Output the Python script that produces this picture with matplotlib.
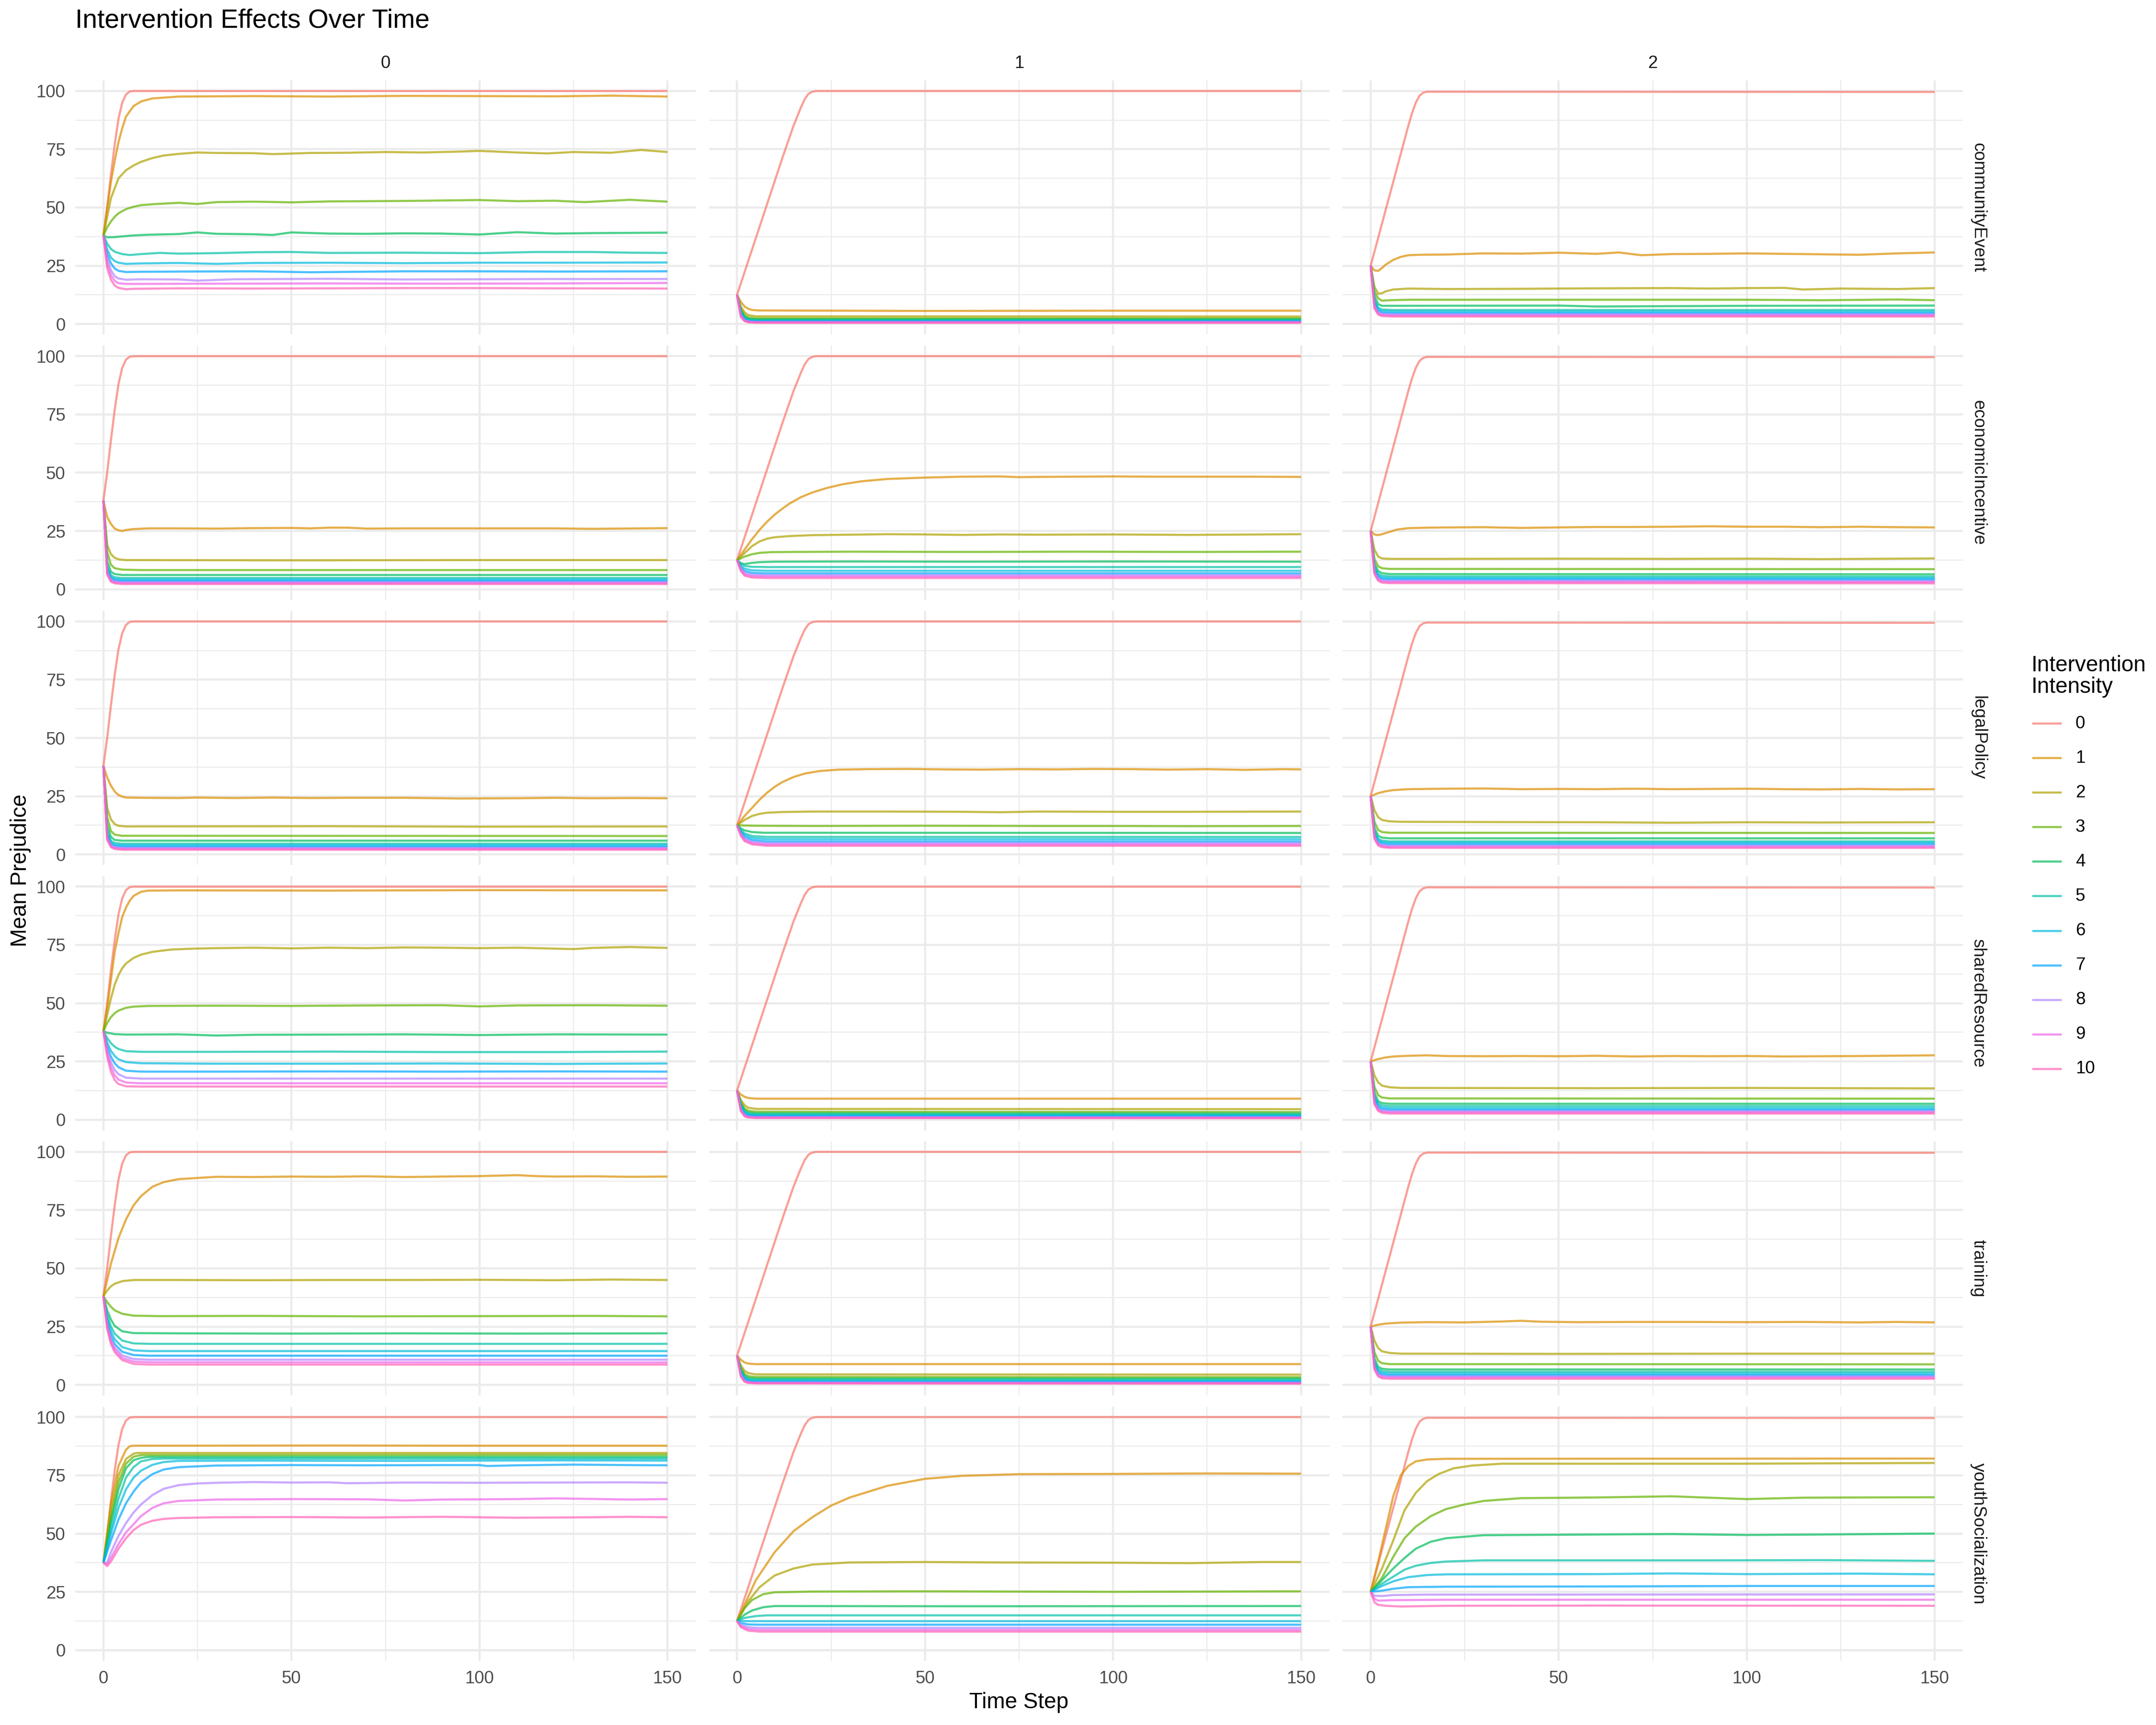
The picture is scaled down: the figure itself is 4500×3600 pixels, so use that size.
import matplotlib
matplotlib.use("Agg")
import matplotlib.pyplot as plt
from matplotlib.lines import Line2D

plt.rcParams['font.family'] = ['Liberation Sans', 'DejaVu Sans']

# facet layout: rows = intervention type, columns = group
conditions = ['communityEvent', 'economicIncentive', 'legalPolicy',
              'sharedResource', 'training', 'youthSocialization']
groups = ['0', '1', '2']
intensities = [str(i) for i in range(11)]
colors = ['#F8766D', '#DB8E00', '#AEA200', '#64B200', '#00BD5C', '#00C1A7',
          '#00BADE', '#00A6FF', '#B385FF', '#EF67EB', '#FF63B6']

# each panel: 11 lines (intensity 0..10), each a list of (time step, mean prejudice)
community_event_0 = [
    [(0, 38), (1, 50), (2, 64), (3, 77), (4, 88), (5, 95), (6, 98.5), (7, 99.8), (8, 100), (150, 100)],
    [(0, 38), (1, 50), (2, 61), (3, 70), (4, 78), (5, 84), (6, 89), (8, 93.5), (10, 95.5), (13, 96.8), (20, 97.6), (40, 97.8), (60, 97.6), (80, 97.9), (100, 97.8), (120, 97.7), (135, 98), (150, 97.6)],
    [(0, 38), (2, 54), (4, 62.5), (6, 66), (8, 68), (10, 69.6), (13, 71.2), (16, 72.3), (20, 73), (25, 73.6), (30, 73.4), (40, 73.3), (45, 72.9), (55, 73.4), (65, 73.5), (75, 73.8), (85, 73.6), (95, 74), (100, 74.3), (110, 73.6), (118, 73.2), (125, 73.8), (135, 73.5), (143, 74.7), (150, 73.8)],
    [(0, 38), (1, 41.5), (2, 44), (3, 46), (4, 47.5), (6, 49.3), (8, 50.3), (10, 51), (14, 51.5), (20, 52), (25, 51.5), (30, 52.3), (40, 52.5), (50, 52.2), (60, 52.6), (80, 52.8), (100, 53.2), (110, 52.7), (120, 52.9), (128, 52.3), (140, 53.3), (150, 52.5)],
    [(0, 38), (1, 37.2), (3, 37.3), (5, 37.6), (8, 38), (12, 38.3), (20, 38.6), (25, 39.3), (30, 38.7), (40, 38.5), (45, 38.2), (50, 39.3), (60, 38.8), (70, 38.7), (80, 38.9), (90, 38.8), (100, 38.4), (110, 39.4), (120, 38.8), (130, 39), (150, 39.2)],
    [(0, 38), (1, 34.5), (2, 32.2), (3, 31), (5, 30), (7, 29.6), (10, 30), (15, 30.5), (20, 30.2), (30, 30.4), (40, 30.8), (50, 30.9), (60, 30.5), (80, 30.6), (100, 30.4), (115, 30.9), (130, 30.9), (140, 30.6), (150, 30.5)],
    [(0, 38), (1, 32), (2, 28.5), (3, 27), (4, 26.3), (6, 25.8), (10, 26), (20, 26.2), (30, 25.8), (40, 26.2), (60, 26.3), (80, 26.1), (100, 26.3), (120, 26.3), (150, 26.4)],
    [(0, 38), (1, 30), (2, 26), (3, 23.8), (4, 22.8), (6, 22.3), (10, 22.4), (20, 22.5), (40, 22.6), (55, 22.2), (80, 22.6), (100, 22.6), (120, 22.5), (150, 22.6)],
    [(0, 38), (1, 28), (2, 23), (3, 20.5), (4, 19.5), (6, 19), (10, 19.2), (20, 19.1), (25, 18.6), (35, 19.2), (60, 19.4), (80, 19.1), (100, 19.2), (120, 19.3), (150, 19.3)],
    [(0, 38), (1, 26), (2, 21), (3, 18.5), (4, 17.5), (6, 17.2), (10, 17.2), (30, 17.3), (60, 17.4), (90, 17.3), (120, 17.4), (150, 17.6)],
    [(0, 38), (1, 24), (2, 19), (3, 16.5), (4, 15.5), (6, 14.9), (8, 15.1), (20, 15.3), (40, 15.2), (60, 15.3), (80, 15.4), (100, 15.4), (120, 15.3), (150, 15.2)],
]
community_event_1 = [
    [(0, 12.5), (4, 32), (8, 51.5), (12, 71), (15, 85), (17, 93), (18, 96.5), (19, 98.8), (20, 99.7), (21, 100), (150, 100)],
    [(0, 12.5), (1, 9.5), (2, 7.5), (3, 6.5), (4, 6), (6, 5.8), (50, 5.6), (100, 5.7), (150, 5.7)],
    [(0, 12.5), (1, 7.5), (2, 5), (3, 3.8), (5, 3.3), (150, 3.2)],
    [(0, 12.5), (1, 6.5), (2, 3.8), (3, 2.8), (5, 2.4), (150, 2.4)],
    [(0, 12.5), (1, 5.8), (2, 3.2), (3, 2.3), (5, 2), (150, 2)],
    [(0, 12.5), (1, 5.2), (2, 2.7), (3, 1.9), (5, 1.6), (150, 1.6)],
    [(0, 12.5), (1, 4.7), (2, 2.3), (3, 1.6), (5, 1.3), (150, 1.3)],
    [(0, 12.5), (1, 4.2), (2, 2), (3, 1.3), (5, 1.1), (150, 1.1)],
    [(0, 12.5), (1, 3.8), (2, 1.7), (3, 1.1), (5, 0.9), (150, 0.9)],
    [(0, 12.5), (1, 3.4), (2, 1.4), (3, 0.9), (5, 0.7), (150, 0.7)],
    [(0, 12.5), (1, 3), (2, 1.2), (3, 0.7), (5, 0.5), (150, 0.5)],
]
community_event_2 = [
    [(0, 25), (2, 37), (4, 49), (6, 61), (8, 73), (10, 85), (11, 90.5), (12, 95), (13, 98), (14, 99.3), (15, 99.7), (150, 99.6)],
    [(0, 25), (1, 23), (2, 22.8), (3, 24), (4, 25.5), (6, 27.5), (8, 28.8), (10, 29.5), (13, 29.7), (20, 29.8), (30, 30.3), (40, 30.2), (50, 30.6), (60, 30.1), (66, 30.7), (72, 29.5), (80, 30), (90, 30.1), (100, 30.3), (110, 30.1), (120, 29.9), (130, 29.7), (140, 30.3), (150, 30.7)],
    [(0, 25), (1, 16), (2, 13), (3, 13.2), (4, 14), (6, 14.8), (10, 15.2), (20, 15), (40, 15.1), (60, 15.3), (80, 15.4), (90, 15.2), (100, 15.4), (110, 15.5), (115, 14.8), (125, 15.2), (140, 15), (150, 15.4)],
    [(0, 25), (1, 14), (2, 11), (3, 10), (5, 10.2), (10, 10.4), (50, 10.4), (100, 10.4), (120, 10.2), (140, 10.5), (150, 10.2)],
    [(0, 25), (1, 12), (2, 8.5), (3, 7.8), (6, 7.8), (50, 7.9), (60, 7.5), (100, 7.8), (150, 7.9)],
    [(0, 25), (1, 10.5), (2, 7), (3, 6.2), (6, 6), (150, 6)],
    [(0, 25), (1, 9.5), (2, 6.3), (3, 5.5), (6, 5.3), (150, 5.3)],
    [(0, 25), (1, 8.7), (2, 5.6), (3, 4.8), (6, 4.6), (150, 4.6)],
    [(0, 25), (1, 8), (2, 5), (3, 4.3), (6, 4.1), (150, 4.1)],
    [(0, 25), (1, 7.3), (2, 4.5), (3, 3.8), (6, 3.6), (150, 3.6)],
    [(0, 25), (1, 6.6), (2, 4), (3, 3.4), (6, 3.2), (150, 3.2)],
]

economic_incentive_0 = [
    [(0, 38), (1, 50), (2, 64), (3, 77), (4, 88), (5, 95), (6, 98.5), (7, 99.8), (8, 100), (150, 100)],
    [(0, 38), (1, 31), (2, 28), (3, 26), (4, 25.3), (5, 25), (6, 25.4), (8, 25.8), (12, 26.1), (20, 26.1), (30, 26), (40, 26.2), (50, 26.3), (55, 26.1), (60, 26.4), (65, 26.4), (70, 26), (80, 26.1), (100, 26.1), (120, 26.1), (130, 25.9), (150, 26.2)],
    [(0, 38), (1, 19), (2, 15), (3, 13.5), (4, 12.8), (6, 12.5), (50, 12.4), (100, 12.5), (150, 12.5)],
    [(0, 38), (1, 16), (2, 10.5), (3, 9), (5, 8.4), (10, 8.2), (150, 8.2)],
    [(0, 38), (1, 12), (2, 7.5), (3, 6.5), (5, 6.1), (150, 6.1)],
    [(0, 38), (1, 10), (2, 6), (3, 5.1), (5, 4.8), (150, 4.8)],
    [(0, 38), (1, 9), (2, 5.2), (3, 4.4), (5, 4.1), (150, 4.1)],
    [(0, 38), (1, 8.2), (2, 4.6), (3, 3.8), (5, 3.5), (150, 3.5)],
    [(0, 38), (1, 7.5), (2, 4), (3, 3.3), (5, 3), (150, 3)],
    [(0, 38), (1, 6.8), (2, 3.6), (3, 2.9), (5, 2.6), (150, 2.6)],
    [(0, 38), (1, 6.2), (2, 3.2), (3, 2.5), (5, 2.2), (150, 2.2)],
]
economic_incentive_1 = [
    [(0, 12.5), (4, 32), (8, 51.5), (12, 71), (15, 85), (17, 93), (18, 96.5), (19, 98.8), (20, 99.7), (21, 100), (150, 100)],
    [(0, 12.5), (2, 17), (4, 21.5), (6, 25.5), (8, 29), (10, 32), (12, 34.5), (14, 36.8), (17, 39.5), (20, 41.5), (24, 43.5), (28, 45), (33, 46.3), (40, 47.3), (50, 47.9), (60, 48.3), (70, 48.4), (75, 48.1), (80, 48.2), (90, 48.3), (100, 48.4), (110, 48.3), (120, 48.3), (135, 48.3), (150, 48.2)],
    [(0, 12.5), (2, 15.5), (4, 18.5), (6, 20.5), (8, 21.7), (10, 22.3), (14, 22.8), (20, 23.2), (30, 23.4), (40, 23.6), (50, 23.5), (60, 23.3), (70, 23.5), (80, 23.4), (100, 23.5), (120, 23.3), (150, 23.6)],
    [(0, 12.5), (2, 14), (4, 15), (6, 15.6), (9, 15.9), (15, 16), (30, 16.1), (60, 16), (90, 16.1), (120, 16), (150, 16.1)],
    [(0, 12.5), (1, 11.2), (2, 10.8), (4, 11.3), (6, 11.6), (10, 11.8), (30, 11.9), (60, 11.8), (100, 11.9), (150, 11.8)],
    [(0, 12.5), (1, 10.8), (2, 10), (4, 9.6), (8, 9.5), (150, 9.5)],
    [(0, 12.5), (1, 10), (2, 8.8), (4, 8.1), (8, 7.9), (150, 7.9)],
    [(0, 12.5), (1, 9.3), (2, 7.8), (4, 7), (8, 6.8), (150, 6.8)],
    [(0, 12.5), (1, 8.8), (2, 7), (4, 6.2), (8, 6), (150, 6)],
    [(0, 12.5), (1, 8.3), (2, 6.3), (4, 5.6), (8, 5.4), (150, 5.4)],
    [(0, 12.5), (1, 7.8), (2, 5.8), (4, 5), (8, 4.8), (150, 4.8)],
]
economic_incentive_2 = [
    [(0, 25), (2, 37), (4, 49), (6, 61), (8, 73), (10, 85), (11, 90.5), (12, 95), (13, 98), (14, 99.3), (15, 99.7), (150, 99.6)],
    [(0, 25), (1, 23.5), (2, 23.2), (3, 23.6), (5, 24.6), (7, 25.6), (10, 26.2), (15, 26.4), (20, 26.5), (30, 26.6), (40, 26.3), (50, 26.5), (60, 26.7), (70, 26.7), (80, 26.8), (90, 27), (100, 26.8), (110, 26.8), (120, 26.6), (130, 26.8), (140, 26.6), (150, 26.5)],
    [(0, 25), (1, 17), (2, 14), (3, 13.2), (5, 13), (20, 13), (50, 13.1), (80, 13), (100, 13.1), (120, 12.9), (150, 13.2)],
    [(0, 25), (1, 13), (2, 9.8), (3, 9), (5, 8.7), (150, 8.6)],
    [(0, 25), (1, 11), (2, 7.8), (3, 6.9), (5, 6.5), (150, 6.4)],
    [(0, 25), (1, 9.8), (2, 6.6), (3, 5.8), (5, 5.5), (150, 5.4)],
    [(0, 25), (1, 9), (2, 5.8), (3, 5), (5, 4.8), (150, 4.7)],
    [(0, 25), (1, 8.3), (2, 5.2), (3, 4.4), (5, 4.2), (150, 4.1)],
    [(0, 25), (1, 7.6), (2, 4.6), (3, 3.8), (5, 3.6), (150, 3.5)],
    [(0, 25), (1, 7), (2, 4.1), (3, 3.3), (5, 3.1), (150, 3)],
    [(0, 25), (1, 6.4), (2, 3.6), (3, 2.8), (5, 2.6), (150, 2.5)],
]

legal_policy_0 = [
    [(0, 38), (1, 50), (2, 64), (3, 77), (4, 88), (5, 95), (6, 98.5), (7, 99.8), (8, 100), (150, 100)],
    [(0, 38), (1, 33), (2, 29.5), (3, 27), (4, 25.5), (5, 24.8), (6, 24.4), (10, 24.3), (20, 24.2), (25, 24.4), (35, 24.2), (45, 24.4), (55, 24.2), (65, 24.3), (80, 24.3), (95, 24), (110, 24.1), (120, 24.3), (130, 24.1), (140, 24.2), (150, 24.1)],
    [(0, 38), (1, 20), (2, 15), (3, 13), (4, 12.3), (6, 12), (60, 12.1), (100, 11.9), (150, 12)],
    [(0, 38), (1, 16), (2, 10), (3, 8.5), (5, 8), (150, 7.9)],
    [(0, 38), (1, 12.5), (2, 7.5), (3, 6.2), (5, 5.9), (150, 5.9)],
    [(0, 38), (1, 10), (2, 5.8), (3, 4.9), (5, 4.6), (150, 4.6)],
    [(0, 38), (1, 9), (2, 5), (3, 4.2), (5, 3.9), (150, 3.9)],
    [(0, 38), (1, 8.2), (2, 4.4), (3, 3.6), (5, 3.3), (150, 3.3)],
    [(0, 38), (1, 7.5), (2, 3.9), (3, 3.1), (5, 2.8), (150, 2.8)],
    [(0, 38), (1, 6.8), (2, 3.5), (3, 2.7), (5, 2.4), (150, 2.4)],
    [(0, 38), (1, 6.2), (2, 3.1), (3, 2.3), (5, 2), (150, 2)],
]
legal_policy_1 = [
    [(0, 12.5), (4, 32), (8, 51.5), (12, 71), (15, 85), (17, 93), (18, 96.5), (19, 98.8), (20, 99.7), (21, 100), (150, 100)],
    [(0, 12.5), (2, 16.5), (4, 20), (6, 23.5), (8, 26.5), (10, 29), (12, 31), (15, 33.2), (18, 34.7), (22, 35.8), (27, 36.4), (35, 36.6), (45, 36.7), (55, 36.5), (65, 36.4), (75, 36.6), (85, 36.5), (95, 36.7), (105, 36.6), (115, 36.4), (125, 36.6), (135, 36.3), (145, 36.6), (150, 36.5)],
    [(0, 12.5), (2, 14.8), (4, 16.5), (6, 17.4), (8, 17.9), (12, 18.2), (20, 18.4), (40, 18.4), (60, 18.3), (70, 18.1), (80, 18.4), (100, 18.3), (120, 18.3), (150, 18.4)],
    [(0, 12.5), (5, 12.3), (20, 12.2), (50, 12.3), (80, 12.2), (100, 12.2), (120, 12.1), (150, 12.2)],
    [(0, 12.5), (1, 11.2), (2, 10.3), (4, 9.6), (7, 9.3), (150, 9.2)],
    [(0, 12.5), (1, 10.5), (2, 9), (4, 7.9), (8, 7.5), (150, 7.5)],
    [(0, 12.5), (1, 10), (2, 8.3), (4, 7), (8, 6.5), (150, 6.5)],
    [(0, 12.5), (1, 9.4), (2, 7.5), (4, 6.1), (8, 5.5), (150, 5.5)],
    [(0, 12.5), (1, 8.9), (2, 6.8), (4, 5.4), (8, 4.8), (150, 4.8)],
    [(0, 12.5), (1, 8.4), (2, 6.2), (4, 4.8), (8, 4.2), (150, 4.2)],
    [(0, 12.5), (1, 8), (2, 5.7), (4, 4.3), (8, 3.7), (150, 3.7)],
]
legal_policy_2 = [
    [(0, 25), (2, 37), (4, 49), (6, 61), (8, 73), (10, 85), (11, 90.5), (12, 95), (13, 98), (14, 99.2), (15, 99.5), (150, 99.4)],
    [(0, 25), (2, 26.3), (4, 27.1), (6, 27.6), (10, 28), (20, 28.2), (30, 28.3), (40, 28), (50, 28.1), (60, 28), (70, 28.2), (80, 28), (90, 28.1), (100, 28.2), (110, 28), (120, 27.9), (130, 28.1), (140, 27.9), (150, 28)],
    [(0, 25), (1, 19), (2, 16), (3, 14.8), (5, 14.2), (8, 14), (30, 13.9), (60, 13.8), (80, 13.6), (100, 13.8), (120, 13.7), (150, 13.8)],
    [(0, 25), (1, 14), (2, 10.5), (3, 9.6), (5, 9.3), (150, 9.2)],
    [(0, 25), (1, 11.5), (2, 8), (3, 7.2), (5, 6.9), (150, 6.9)],
    [(0, 25), (1, 10), (2, 6.7), (3, 5.9), (5, 5.6), (150, 5.6)],
    [(0, 25), (1, 9.2), (2, 6), (3, 5.3), (5, 5), (150, 5)],
    [(0, 25), (1, 8.5), (2, 5.4), (3, 4.6), (5, 4.3), (150, 4.3)],
    [(0, 25), (1, 7.8), (2, 4.8), (3, 4), (5, 3.7), (150, 3.7)],
    [(0, 25), (1, 7.2), (2, 4.3), (3, 3.5), (5, 3.2), (150, 3.2)],
    [(0, 25), (1, 6.6), (2, 3.8), (3, 3.1), (5, 2.8), (150, 2.8)],
]

shared_resource_0 = [
    [(0, 38), (1, 50), (2, 64), (3, 77), (4, 88), (5, 95), (6, 98.5), (7, 99.8), (8, 100), (150, 100)],
    [(0, 38), (1, 48), (2, 60), (3, 72), (4, 80), (5, 87), (6, 91), (7, 94), (8, 96), (10, 97.8), (12, 98.3), (20, 98.4), (60, 98.3), (100, 98.5), (150, 98.4)],
    [(0, 38), (1, 45), (2, 52), (3, 58), (4, 62), (5, 65), (6, 67), (8, 69.4), (10, 70.8), (13, 72), (18, 73), (24, 73.4), (30, 73.6), (40, 73.8), (50, 73.5), (60, 73.8), (70, 73.6), (80, 73.9), (90, 73.8), (100, 73.6), (110, 73.8), (120, 73.4), (125, 73.2), (130, 73.7), (140, 74.1), (150, 73.7)],
    [(0, 38), (1, 41.5), (2, 44), (3, 45.7), (4, 46.8), (6, 48), (8, 48.5), (12, 48.8), (30, 48.9), (50, 48.8), (70, 49), (90, 49.1), (100, 48.6), (110, 49), (130, 49.1), (150, 48.9)],
    [(0, 38), (1, 37.3), (3, 36.7), (6, 36.5), (20, 36.6), (30, 36.1), (40, 36.4), (60, 36.5), (80, 36.6), (100, 36.3), (120, 36.6), (150, 36.5)],
    [(0, 38), (1, 35), (2, 32.8), (3, 31.3), (4, 30.3), (6, 29.4), (10, 29.1), (30, 29.1), (60, 29.2), (90, 29), (120, 29), (150, 29.2)],
    [(0, 38), (1, 33), (2, 29.5), (3, 27.3), (4, 25.9), (6, 24.7), (10, 24.2), (30, 24), (60, 24), (90, 24.1), (120, 23.9), (150, 24.1)],
    [(0, 38), (1, 31.5), (2, 27), (3, 24.2), (4, 22.5), (6, 21), (10, 20.6), (30, 20.6), (60, 20.7), (90, 20.6), (120, 20.7), (150, 20.6)],
    [(0, 38), (1, 30), (2, 24.5), (3, 21.3), (4, 19.5), (6, 18), (10, 17.6), (150, 17.6)],
    [(0, 38), (1, 28.5), (2, 22.5), (3, 19), (4, 17.2), (6, 15.9), (10, 15.6), (150, 15.6)],
    [(0, 38), (1, 27), (2, 20.5), (3, 17), (4, 15.3), (6, 14.3), (10, 14.2), (150, 14.2)],
]
shared_resource_1 = [
    [(0, 12.5), (4, 32), (8, 51.5), (12, 71), (15, 85), (17, 93), (18, 96.5), (19, 98.8), (20, 99.7), (21, 100), (150, 100)],
    [(0, 12.5), (1, 10.8), (2, 9.8), (3, 9.3), (5, 9), (150, 9)],
    [(0, 12.5), (1, 8.5), (2, 6.2), (3, 5.1), (5, 4.6), (150, 4.5)],
    [(0, 12.5), (1, 7.5), (2, 4.8), (3, 3.8), (5, 3.4), (150, 3.3)],
    [(0, 12.5), (1, 6.8), (2, 4), (3, 3.1), (5, 2.7), (150, 2.6)],
    [(0, 12.5), (1, 6.2), (2, 3.4), (3, 2.5), (5, 2.2), (150, 2.1)],
    [(0, 12.5), (1, 5.6), (2, 2.9), (3, 2.1), (5, 1.8), (150, 1.7)],
    [(0, 12.5), (1, 5), (2, 2.4), (3, 1.7), (5, 1.4), (150, 1.3)],
    [(0, 12.5), (1, 4.5), (2, 2), (3, 1.3), (5, 1.1), (150, 1)],
    [(0, 12.5), (1, 4), (2, 1.7), (3, 1.1), (5, 0.9), (150, 0.8)],
    [(0, 12.5), (1, 3.6), (2, 1.4), (3, 0.9), (5, 0.7), (150, 0.6)],
]
shared_resource_2 = [
    [(0, 25), (2, 37), (4, 49), (6, 61), (8, 73), (10, 85), (11, 90.5), (12, 95), (13, 98), (14, 99.3), (15, 99.7), (150, 99.6)],
    [(0, 25), (2, 26), (4, 26.7), (6, 27.1), (10, 27.4), (15, 27.6), (20, 27.3), (30, 27.2), (40, 27.3), (50, 27.2), (60, 27.4), (70, 27.1), (80, 27.3), (90, 27.2), (100, 27.3), (110, 27.1), (120, 27.2), (130, 27.3), (150, 27.6)],
    [(0, 25), (1, 19), (2, 16), (3, 14.6), (5, 13.9), (8, 13.6), (60, 13.5), (100, 13.6), (150, 13.4)],
    [(0, 25), (1, 14), (2, 10.5), (3, 9.5), (5, 9.1), (150, 9)],
    [(0, 25), (1, 11.5), (2, 7.9), (3, 7.1), (5, 6.8), (150, 6.8)],
    [(0, 25), (1, 10.3), (2, 6.9), (3, 6.1), (5, 5.8), (150, 5.8)],
    [(0, 25), (1, 9.3), (2, 6), (3, 5.2), (5, 4.9), (150, 4.9)],
    [(0, 25), (1, 8.5), (2, 5.3), (3, 4.5), (5, 4.2), (150, 4.2)],
    [(0, 25), (1, 7.8), (2, 4.7), (3, 3.9), (5, 3.6), (150, 3.6)],
    [(0, 25), (1, 7.2), (2, 4.2), (3, 3.4), (5, 3.1), (150, 3.1)],
    [(0, 25), (1, 6.6), (2, 3.7), (3, 2.9), (5, 2.6), (150, 2.6)],
]

training_0 = [
    [(0, 38), (1, 50), (2, 64), (3, 77), (4, 88), (5, 95), (6, 98.5), (7, 99.8), (8, 100), (150, 100)],
    [(0, 38), (2, 52), (4, 63), (6, 71), (8, 77), (10, 81), (13, 85), (16, 87), (20, 88.3), (30, 89.3), (40, 89.2), (50, 89.4), (60, 89.3), (70, 89.5), (80, 89.2), (90, 89.4), (100, 89.6), (105, 89.8), (110, 90), (115, 89.6), (120, 89.4), (130, 89.5), (140, 89.3), (150, 89.4)],
    [(0, 38), (1, 40.5), (2, 42.3), (3, 43.4), (5, 44.5), (8, 45), (20, 45), (40, 44.9), (60, 45), (80, 45), (100, 45.1), (120, 44.9), (135, 45.2), (150, 45)],
    [(0, 38), (1, 35.5), (2, 33.5), (3, 32), (5, 30.5), (8, 29.7), (15, 29.5), (40, 29.6), (70, 29.4), (100, 29.5), (130, 29.6), (150, 29.4)],
    [(0, 38), (1, 32), (2, 28), (3, 25.3), (5, 23), (8, 22.2), (20, 22.1), (50, 22), (80, 22.1), (110, 22), (150, 22.1)],
    [(0, 38), (1, 30), (2, 25), (3, 22), (5, 19), (8, 17.8), (12, 17.6), (150, 17.6)],
    [(0, 38), (1, 28.5), (2, 23), (3, 19.5), (5, 16.2), (8, 14.8), (12, 14.5), (150, 14.5)],
    [(0, 38), (1, 27), (2, 21), (3, 17.5), (5, 14.2), (8, 12.8), (12, 12.5), (150, 12.5)],
    [(0, 38), (1, 26), (2, 19.5), (3, 16), (5, 12.6), (8, 11.1), (12, 10.8), (150, 10.8)],
    [(0, 38), (1, 25), (2, 18.5), (3, 15), (5, 11.5), (8, 10), (12, 9.7), (150, 9.6)],
    [(0, 38), (1, 24), (2, 17.5), (3, 14), (5, 10.6), (8, 9), (12, 8.7), (150, 8.7)],
]
training_1 = [
    [(0, 12.5), (4, 32), (8, 51.5), (12, 71), (15, 85), (17, 93), (18, 96.5), (19, 98.8), (20, 99.7), (21, 100), (150, 100)],
    [(0, 12.5), (1, 10.8), (2, 9.6), (3, 9.1), (5, 8.9), (150, 8.9)],
    [(0, 12.5), (1, 8.4), (2, 6), (3, 5), (5, 4.5), (150, 4.4)],
    [(0, 12.5), (1, 7.4), (2, 4.7), (3, 3.7), (5, 3.4), (150, 3.3)],
    [(0, 12.5), (1, 6.7), (2, 3.9), (3, 3), (5, 2.7), (150, 2.7)],
    [(0, 12.5), (1, 6.1), (2, 3.3), (3, 2.4), (5, 2.2), (150, 2.1)],
    [(0, 12.5), (1, 5.5), (2, 2.8), (3, 2), (5, 1.7), (150, 1.6)],
    [(0, 12.5), (1, 4.9), (2, 2.3), (3, 1.6), (5, 1.3), (150, 1.2)],
    [(0, 12.5), (1, 4.4), (2, 1.9), (3, 1.2), (5, 1), (150, 0.9)],
    [(0, 12.5), (1, 3.9), (2, 1.6), (3, 1), (5, 0.8), (150, 0.7)],
    [(0, 12.5), (1, 3.5), (2, 1.3), (3, 0.8), (5, 0.6), (150, 0.5)],
]
training_2 = [
    [(0, 25), (2, 37), (4, 49), (6, 61), (8, 73), (10, 85), (11, 90.5), (12, 95), (13, 98), (14, 99.3), (15, 99.7), (150, 99.6)],
    [(0, 25), (2, 25.8), (4, 26.3), (8, 26.7), (15, 26.9), (25, 26.8), (35, 27.2), (40, 27.5), (45, 27.1), (55, 26.9), (70, 27), (85, 27), (100, 26.9), (115, 27), (130, 26.8), (140, 27), (150, 26.8)],
    [(0, 25), (1, 19), (2, 15.8), (3, 14.4), (5, 13.7), (8, 13.4), (50, 13.3), (100, 13.4), (150, 13.4)],
    [(0, 25), (1, 14), (2, 10.3), (3, 9.3), (5, 8.9), (150, 8.8)],
    [(0, 25), (1, 11.3), (2, 7.7), (3, 6.9), (5, 6.6), (150, 6.6)],
    [(0, 25), (1, 10), (2, 6.7), (3, 5.9), (5, 5.6), (150, 5.6)],
    [(0, 25), (1, 9.2), (2, 5.9), (3, 5.1), (5, 4.8), (150, 4.8)],
    [(0, 25), (1, 8.4), (2, 5.2), (3, 4.4), (5, 4.1), (150, 4.1)],
    [(0, 25), (1, 7.7), (2, 4.6), (3, 3.8), (5, 3.6), (150, 3.6)],
    [(0, 25), (1, 7.1), (2, 4.1), (3, 3.3), (5, 3.1), (150, 3.1)],
    [(0, 25), (1, 6.5), (2, 3.6), (3, 2.8), (5, 2.6), (150, 2.6)],
]

youth_socialization_0 = [
    [(0, 37.5), (1, 50), (2, 64), (3, 77), (4, 88), (5, 95), (6, 98.5), (7, 99.8), (8, 100), (150, 100)],
    [(0, 37.5), (2, 63), (4, 79), (6, 86), (7, 87.5), (8, 87.7), (60, 87.8), (100, 87.7), (150, 87.7)],
    [(0, 37.5), (2, 60), (4, 75), (6, 82), (8, 84.3), (9, 84.6), (60, 84.6), (150, 84.6)],
    [(0, 37.5), (2, 57), (4, 72), (6, 80), (8, 83), (10, 83.7), (150, 83.8)],
    [(0, 37.5), (2, 55), (4, 69), (6, 78), (8, 81.5), (10, 82.5), (12, 82.9), (150, 82.9)],
    [(0, 37.5), (2, 52), (4, 65), (6, 74), (8, 78.5), (10, 81), (13, 82), (16, 82.2), (150, 82.2)],
    [(0, 37.5), (2, 50), (4, 61), (6, 69), (8, 74), (10, 77), (13, 79.5), (16, 80.7), (20, 81.2), (40, 81.3), (80, 81.2), (120, 81.4), (150, 81.3)],
    [(0, 37.5), (2, 47), (4, 56), (6, 63), (8, 68), (10, 72), (13, 75.5), (16, 77.5), (20, 78.5), (30, 79.2), (50, 79.4), (70, 79.3), (90, 79.4), (100, 79.4), (102, 79), (110, 79.3), (125, 79.6), (140, 79.4), (150, 79.3)],
    [(0, 37.5), (1, 37.5), (2, 42), (4, 49), (6, 54.5), (8, 59), (10, 62.5), (13, 66.5), (16, 69.2), (20, 70.8), (25, 71.5), (30, 71.8), (40, 72.1), (50, 71.9), (60, 72), (65, 71.6), (80, 71.9), (100, 71.8), (120, 71.9), (140, 72), (150, 71.8)],
    [(0, 37.5), (1, 36.8), (2, 39.5), (4, 45.5), (6, 50.5), (8, 54), (10, 57.5), (13, 61), (16, 63), (20, 64), (30, 64.6), (50, 64.8), (70, 64.7), (80, 64.2), (90, 64.6), (110, 64.8), (120, 65.1), (140, 64.6), (150, 64.8)],
    [(0, 37.5), (1, 36), (2, 38), (4, 43.5), (6, 48), (8, 51.5), (10, 53.8), (13, 55.5), (16, 56.3), (20, 56.7), (30, 57), (50, 57.1), (70, 56.9), (90, 57.2), (110, 56.8), (130, 57), (140, 57.2), (150, 57)],
]
youth_socialization_1 = [
    [(0, 12.5), (4, 32), (8, 51.5), (12, 71), (15, 85), (17, 93), (18, 96.5), (19, 98.8), (20, 99.7), (21, 100), (150, 100)],
    [(0, 12.5), (5, 30), (10, 42), (15, 51), (20, 57), (25, 62), (30, 65.5), (40, 70.5), (50, 73.5), (60, 74.8), (75, 75.5), (100, 75.6), (125, 75.8), (150, 75.7)],
    [(0, 12.5), (3, 21), (6, 27), (10, 32), (15, 35), (20, 36.7), (30, 37.6), (50, 37.8), (70, 37.6), (100, 37.5), (120, 37.3), (140, 37.8), (150, 37.8)],
    [(0, 12.5), (2, 18), (4, 21.5), (7, 24), (10, 24.8), (20, 25.1), (50, 25.2), (100, 25), (150, 25.2)],
    [(0, 12.5), (2, 15.2), (4, 17), (7, 18.4), (10, 18.9), (60, 18.8), (150, 18.9)],
    [(0, 12.5), (2, 13.8), (5, 14.6), (8, 14.9), (150, 14.9)],
    [(0, 12.5), (3, 12.4), (150, 12.4)],
    [(0, 12.5), (1, 11.6), (3, 11), (6, 10.9), (150, 10.9)],
    [(0, 12.5), (1, 10.8), (3, 9.8), (6, 9.5), (150, 9.5)],
    [(0, 12.5), (1, 10.3), (3, 9), (6, 8.6), (150, 8.6)],
    [(0, 12.5), (1, 9.8), (3, 8.3), (6, 7.9), (150, 7.9)],
]
youth_socialization_2 = [
    [(0, 25), (2, 37), (4, 49), (6, 61), (8, 73), (10, 85), (11, 90.5), (12, 95), (13, 98), (14, 99.3), (15, 99.7), (150, 99.6)],
    [(0, 25), (2, 38), (4, 52), (6, 66), (8, 75), (10, 79), (12, 81), (15, 81.8), (20, 82.1), (150, 82.2)],
    [(0, 25), (3, 35), (6, 47), (9, 60), (12, 67.5), (15, 72.5), (18, 75.5), (22, 78), (27, 79.2), (35, 80), (60, 80), (100, 80), (150, 80.3)],
    [(0, 25), (3, 31), (6, 40), (9, 48), (12, 53), (16, 57.5), (20, 60.5), (25, 62.5), (30, 64), (40, 65.2), (60, 65.5), (80, 66), (100, 64.8), (115, 65.4), (130, 65.5), (150, 65.6)],
    [(0, 25), (3, 30), (6, 35), (9, 39.5), (12, 43.5), (16, 46.5), (20, 48), (30, 49.3), (60, 49.6), (80, 49.8), (100, 49.4), (120, 49.6), (150, 50)],
    [(0, 25), (3, 28.5), (6, 31.5), (9, 34.5), (12, 36.2), (16, 37.4), (20, 38), (30, 38.5), (60, 38.5), (90, 38.5), (120, 38.6), (150, 38.3)],
    [(0, 25), (3, 27.5), (6, 29.5), (10, 31.3), (15, 32.2), (20, 32.5), (60, 32.6), (80, 32.9), (100, 32.6), (130, 32.8), (150, 32.5)],
    [(0, 25), (3, 25.5), (6, 26.3), (10, 27), (20, 27.2), (60, 27.3), (100, 27.5), (150, 27.5)],
    [(0, 25), (1, 23.3), (3, 23.2), (6, 23.6), (15, 23.8), (150, 23.9)],
    [(0, 25), (1, 22), (2, 21.2), (5, 21.4), (20, 21.6), (150, 21.6)],
    [(0, 25), (1, 20.5), (2, 19.4), (4, 19), (8, 18.7), (20, 19), (60, 19.1), (150, 19)],
]

panels = [
    [community_event_0, community_event_1, community_event_2],
    [economic_incentive_0, economic_incentive_1, economic_incentive_2],
    [legal_policy_0, legal_policy_1, legal_policy_2],
    [shared_resource_0, shared_resource_1, shared_resource_2],
    [training_0, training_1, training_2],
    [youth_socialization_0, youth_socialization_1, youth_socialization_2],
]

W, H = 4500, 3600
fig = plt.figure(figsize=(15, 12), dpi=300)

# panel geometry in pixels
left0, top0 = 157, 168
pw, ph = 1295, 530
gap_x, gap_y = 27.5, 23.5
grid_col = '#EBEBEB'

for i, cond in enumerate(conditions):
    for j, grp in enumerate(groups):
        x0 = left0 + j * (pw + gap_x)
        y0 = top0 + i * (ph + gap_y)
        ax = fig.add_axes([x0 / W, 1 - (y0 + ph) / H, pw / W, ph / H])
        for k, line in enumerate(panels[i][j]):
            ts = [p[0] for p in line]
            vs = [p[1] for p in line]
            ax.plot(ts, vs, color=colors[k], lw=1.07, alpha=0.7,
                    solid_joinstyle='round', solid_capstyle='butt')
        ax.set_xlim(-7.5, 157.5)
        ax.set_ylim(-4.5, 104.5)
        ax.set_xticks([0, 50, 100, 150])
        ax.set_xticks([25, 75, 125], minor=True)
        ax.set_yticks([0, 25, 50, 75, 100])
        ax.set_yticks([12.5, 37.5, 62.5, 87.5], minor=True)
        ax.grid(which='major', color=grid_col, lw=1.07)
        ax.grid(which='minor', color=grid_col, lw=0.53)
        ax.set_axisbelow(True)
        for s in ax.spines.values():
            s.set_visible(False)
        ax.tick_params(which='both', length=0, pad=4.95, labelsize=8.8,
                       labelcolor='#4D4D4D',
                       labelleft=(j == 0), labelbottom=(i == len(conditions) - 1))
        if i == 0:
            fig.text((x0 + pw / 2) / W, 1 - 133 / H, grp, ha='center', va='center',
                     fontsize=8.8, color='#1A1A1A')
        if j == len(groups) - 1:
            fig.text(4129 / W, 1 - (y0 + ph / 2) / H, cond, ha='center', va='center',
                     rotation=-90, fontsize=8.8, color='#1A1A1A')

fig.text(left0 / W, 1 - 43 / H, 'Intervention Effects Over Time', ha='left', va='center',
         fontsize=13.2, color='black')
fig.text(2127 / W, 1 - 3553 / H, 'Time Step', ha='center', va='center', fontsize=11)
fig.text(43 / W, 1 - 1817 / H, 'Mean Prejudice', ha='center', va='center',
         rotation=90, fontsize=11)

# legend
fig.text(4240 / W, 1 - 1389 / H, 'Intervention', ha='left', va='center', fontsize=11)
fig.text(4240 / W, 1 - 1434 / H, 'Intensity', ha='left', va='center', fontsize=11)
for k, lab in enumerate(intensities):
    yk = 1 - (1510 + k * 72.1) / H
    fig.add_artist(Line2D([4244 / W, 4301 / W], [yk, yk], transform=fig.transFigure,
                          color=colors[k], lw=1.07, alpha=0.7))
    fig.text(4332 / W, yk, lab, ha='left', va='center', fontsize=8.8, color='black')

fig.savefig('out.png', dpi=300, facecolor='white')
